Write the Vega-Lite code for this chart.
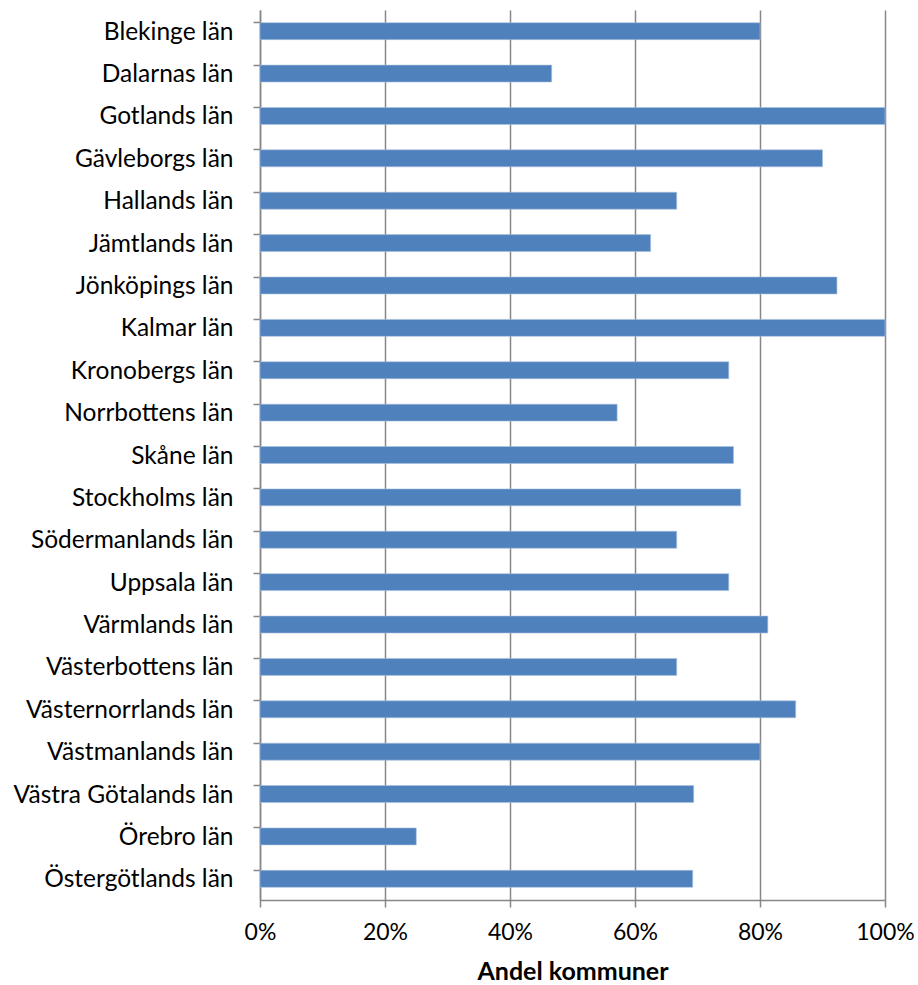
{
  "$schema": "https://vega.github.io/schema/vega-lite/v6.json",
  "autosize": "none",
  "width": 625,
  "height": 890,
  "padding": {"left": 260, "top": 10, "right": 33, "bottom": 85},
  "background": "white",
  "config": {
    "view": {"stroke": null},
    "font": "Lato",
    "axis": {"labelFont": "Lato", "titleFont": "Lato", "labelColor": "black", "titleColor": "black"}
  },
  "data": {
    "values": [
      {"lan": "Blekinge län", "andel": 0.8},
      {"lan": "Dalarnas län", "andel": 0.4667},
      {"lan": "Gotlands län", "andel": 1.0},
      {"lan": "Gävleborgs län", "andel": 0.9},
      {"lan": "Hallands län", "andel": 0.6667},
      {"lan": "Jämtlands län", "andel": 0.625},
      {"lan": "Jönköpings län", "andel": 0.9231},
      {"lan": "Kalmar län", "andel": 1.0},
      {"lan": "Kronobergs län", "andel": 0.75},
      {"lan": "Norrbottens län", "andel": 0.5714},
      {"lan": "Skåne län", "andel": 0.7576},
      {"lan": "Stockholms län", "andel": 0.7692},
      {"lan": "Södermanlands län", "andel": 0.6667},
      {"lan": "Uppsala län", "andel": 0.75},
      {"lan": "Värmlands län", "andel": 0.8125},
      {"lan": "Västerbottens län", "andel": 0.6667},
      {"lan": "Västernorrlands län", "andel": 0.8571},
      {"lan": "Västmanlands län", "andel": 0.8},
      {"lan": "Västra Götalands län", "andel": 0.6939},
      {"lan": "Örebro län", "andel": 0.25},
      {"lan": "Östergötlands län", "andel": 0.6923}
    ]
  },
  "mark": {"type": "bar", "color": "#4F81BD", "stroke": "#A9C1DF", "strokeWidth": 0.6},
  "encoding": {
    "y": {
      "field": "lan",
      "type": "nominal",
      "sort": null,
      "scale": {"paddingInner": 0.6, "paddingOuter": 0.3},
      "axis": {
        "title": null,
        "bandPosition": 0,
        "labelFontSize": 24.5,
        "labelPadding": 20,
        "labelLimit": 0,
        "labelOffset": 1.5,
        "tickSize": 7,
        "tickColor": "#878787",
        "tickWidth": 1.5,
        "domainColor": "#878787",
        "domainWidth": 1.5,
        "grid": false
      }
    },
    "x": {
      "field": "andel",
      "type": "quantitative",
      "scale": {"domain": [0, 1], "nice": false},
      "axis": {
        "title": "Andel kommuner",
        "titleFontSize": 25,
        "titleFontWeight": "bold",
        "titlePadding": 15,
        "format": ".0%",
        "values": [0, 0.2, 0.4, 0.6, 0.8, 1.0],
        "labelFontSize": 23,
        "labelFlush": false,
        "labelPadding": 14,
        "tickSize": 7,
        "tickColor": "#878787",
        "tickWidth": 1.5,
        "domainColor": "#878787",
        "domainWidth": 1.5,
        "grid": true,
        "gridColor": "#878787",
        "gridWidth": 1.5
      }
    }
  }
}
